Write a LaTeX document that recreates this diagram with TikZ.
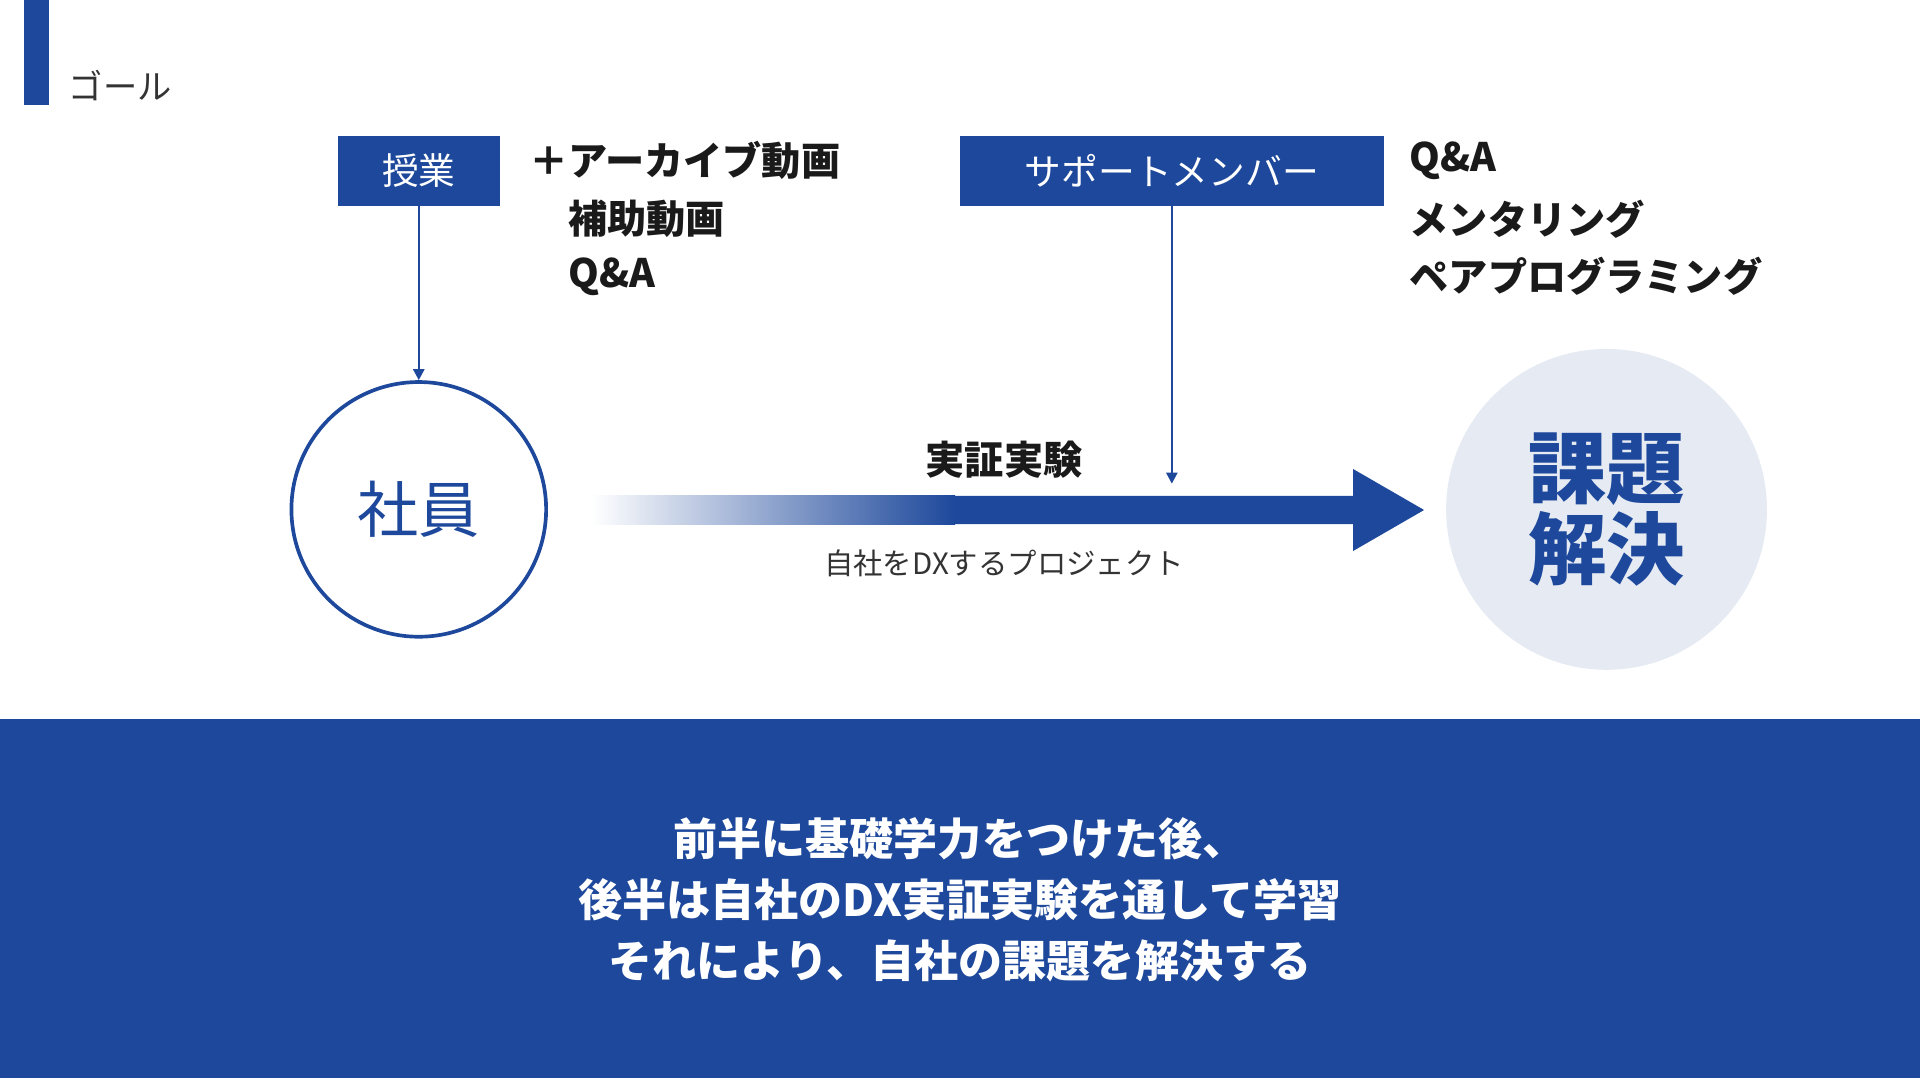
\documentclass[tikz,border=0pt]{standalone}
\usepackage{fontspec}
\setmainfont{Noto Sans CJK JP}
\usetikzlibrary{arrows.meta}
\definecolor{dblue}{HTML}{1D489B}
\definecolor{lblue}{HTML}{E5EAF3}
\definecolor{dtext}{HTML}{1A1A1A}
\definecolor{gtext}{HTML}{333333}
\tikzset{
 box/.style={fill=dblue,text=white,inner sep=0pt,font=\fontsize{30}{30}\selectfont,minimum height=57pt},
 bl/.style={anchor=west,text=dtext,font=\bfseries\fontsize{32}{32}\selectfont,inner sep=0pt},
 conn/.style={draw=dblue,line width=2pt,-{Triangle[length=9pt,width=9pt]}},
}
\begin{document}
\begin{tikzpicture}[x=1pt,y=-1pt]
\useasboundingbox (0,0) rectangle (1568,882);
\fill[white] (0,0) rectangle (1568,882);
\fill[dblue] (20,0) rectangle (40,86);
\node[anchor=west,text=gtext,font=\fontsize{28}{28}\selectfont,inner sep=0pt] (goal) at (56,70) {ゴール};
\node[box,minimum width=132pt] (jugyo) at (342,139.5) {授業};
\node[box,minimum width=346pt] (sup) at (957,139.5) {サポートメンバー};
\node[bl] (t1) at (432,131) {＋アーカイブ動画};
\node[bl] (t2) at (464,179) {補助動画};
\node[bl] (t3) at (464,226) {Q\&A};
\node[bl] (s1) at (1151,131) {Q\&A};
\node[bl] (s2) at (1151,179) {メンタリング};
\node[bl] (s3) at (1151,226) {ペアプログラミング};
\node[circle,draw=dblue,line width=3pt,minimum size=208pt,text=dblue,font=\fontsize{50}{50}\selectfont] (emp) at (342,416) {社員};
\node[circle,fill=lblue,minimum size=262pt,text=dblue,font=\bfseries\fontsize{64}{66}\selectfont,align=center] (goalc) at (1312,416) {課題\\解決};
\draw[conn] (jugyo.south) -- (emp.north);
% gradient arrow
\shade[left color=white,right color=dblue] (483,405) rectangle (780,428);
\fill[dblue] (779,405) -- (1105,405) -- (1105,383) -- (1163,416.5) -- (1105,450) -- (1105,428) -- (779,428) -- cycle;
\coordinate (tip) at (957,395);
\draw[conn] (sup.south) -- (tip);
\node[text=dtext,font=\bfseries\fontsize{32}{32}\selectfont] (jissho) at (820,375) {実証実験};
\node[text=gtext,font=\fontsize{24}{24}\selectfont] (proj) at (820,460) {自社をDXするプロジェクト};
\fill[dblue] (0,587) rectangle (1568,880);
\node[text=white,font=\bfseries\fontsize{36}{50}\selectfont,align=center] (msg) at (784,735) {前半に基礎学力をつけた後、\\後半は自社のDX実証実験を通して学習\\それにより、自社の課題を解決する};
\end{tikzpicture}
\end{document}
